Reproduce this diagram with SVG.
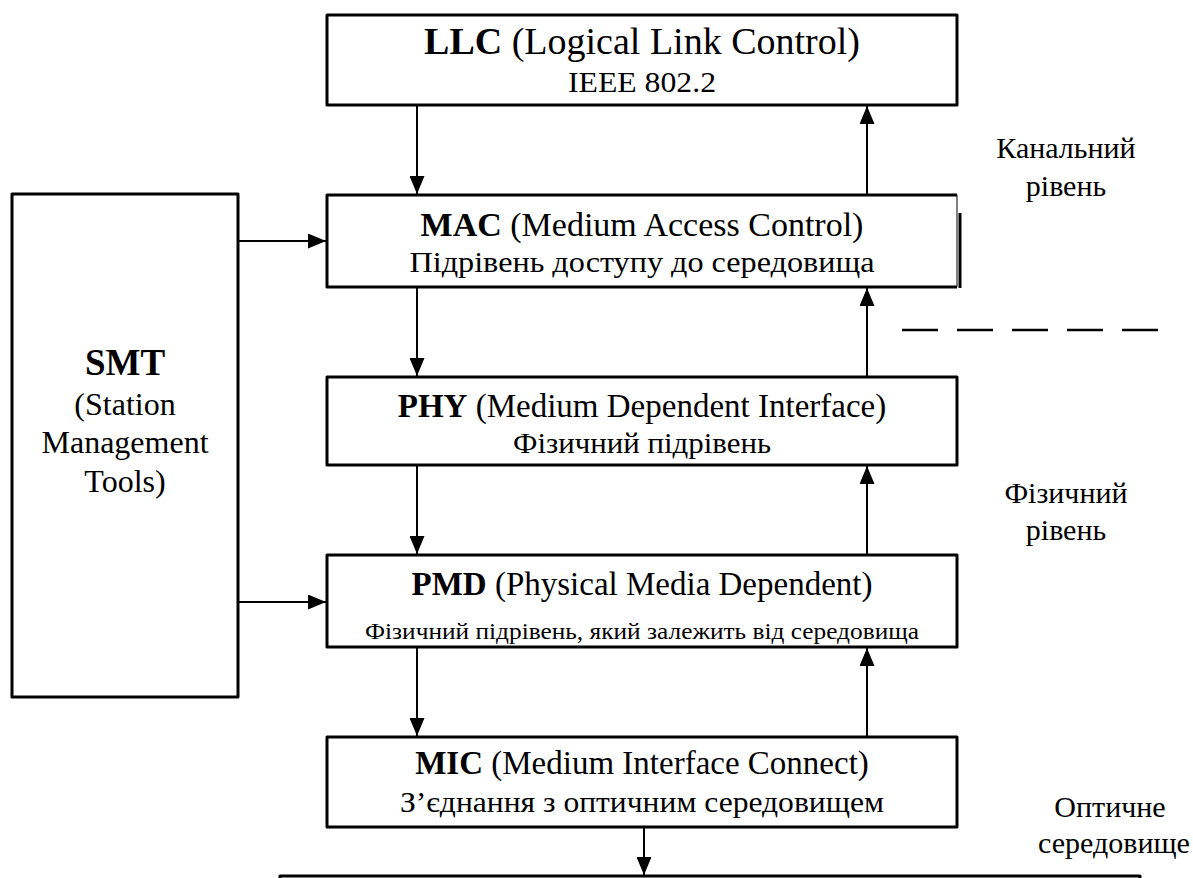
<svg xmlns="http://www.w3.org/2000/svg" width="1193" height="878" viewBox="0 0 1193 878" font-family="'Liberation Serif', 'Times New Roman', serif">
<style type="text/css">
.box{fill:#fff;stroke:#000;stroke-width:3;stroke-linejoin:round}
.conn{stroke:#000;stroke-width:2;fill:none}
text{font-family:'Liberation Serif','Times New Roman',serif;fill:#000;text-anchor:middle}
.b{font-weight:bold}
.t{font-size:33px}
.s{font-size:29px}
.side{font-size:30px}
</style>
<defs>
<marker id="ah" markerUnits="userSpaceOnUse" markerWidth="18" markerHeight="15" refX="18" refY="7.5" orient="auto">
<path d="M0,0 L18,7.5 L0,15 z" fill="#000"/>
</marker>
</defs>
<rect width="1193" height="878" fill="#fff"/>

<g id="llc">
<rect class="box" x="327" y="15" width="630" height="90"/>
<text x="642" y="54" style="font-size:38px"><tspan class="b">LLC</tspan> (Logical Link Control)</text>
<text x="642" y="92" class="s" textLength="148" lengthAdjust="spacingAndGlyphs">IEEE 802.2</text>
</g>

<g id="mac">
<path d="M957,287 L327,287 L327,195 L957,195" class="box"/>
<line x1="957" y1="195" x2="957" y2="287" stroke="#000" stroke-width="1"/>
<line x1="960" y1="213" x2="960" y2="288" stroke="#000" stroke-width="3"/>
<text x="642" y="236" style="font-size:34px"><tspan class="b">MAC</tspan> (Medium Access Control)</text>
<text x="642" y="272" class="s" textLength="465" lengthAdjust="spacingAndGlyphs">Підрівень доступу до середовища</text>
</g>

<g id="phy">
<rect class="box" x="327" y="377" width="630" height="88"/>
<text x="642" y="417" class="t"><tspan class="b">PHY</tspan> (Medium Dependent Interface)</text>
<text x="642" y="453" class="s" textLength="258" lengthAdjust="spacingAndGlyphs">Фізичний підрівень</text>
</g>

<g id="pmd">
<rect class="box" x="327" y="555" width="630" height="92"/>
<text x="642" y="595" class="t"><tspan class="b">PMD</tspan> (Physical Media Dependent)</text>
<text x="642" y="639" style="font-size:23px" textLength="554" lengthAdjust="spacingAndGlyphs">Фізичний підрівень, який залежить від середовища</text>
</g>

<g id="mic">
<rect class="box" x="327" y="737" width="630" height="90"/>
<text x="642" y="774" class="t"><tspan class="b">MIC</tspan> (Medium Interface Connect)</text>
<text x="642" y="812" class="s" textLength="484" lengthAdjust="spacingAndGlyphs">З’єднання з оптичним середовищем</text>
</g>

<g id="smt">
<rect class="box" x="12" y="194" width="226" height="503"/>
<text x="125" y="375" class="b" style="font-size:37px">SMT</text>
<text x="125" y="415" style="font-size:32px">(Station</text>
<text x="125" y="453" style="font-size:32px">Management</text>
<text x="125" y="492" style="font-size:32px">Tools)</text>
</g>

<g id="medium">
<rect class="box" x="280" y="876" width="860" height="20"/>
</g>

<g id="labels">
<text x="1066" y="158" class="side">Канальний</text>
<text x="1066" y="196" class="side">рівень</text>
<line x1="902" y1="330" x2="1158" y2="330" stroke="#000" stroke-width="2.5" stroke-dasharray="36 19"/>
<text x="1066" y="503" class="side">Фізичний</text>
<text x="1066" y="540" class="side">рівень</text>
<text x="1110" y="817" class="side">Оптичне</text>
<text x="1114" y="853" class="side">середовище</text>
</g>

<g id="connectors">
<line class="conn" x1="417" y1="105" x2="417" y2="194" marker-end="url(#ah)"/>
<line class="conn" x1="867" y1="195" x2="867" y2="106" marker-end="url(#ah)"/>
<line class="conn" x1="417" y1="287" x2="417" y2="376" marker-end="url(#ah)"/>
<line class="conn" x1="867" y1="377" x2="867" y2="288" marker-end="url(#ah)"/>
<line class="conn" x1="417" y1="465" x2="417" y2="554" marker-end="url(#ah)"/>
<line class="conn" x1="867" y1="555" x2="867" y2="466" marker-end="url(#ah)"/>
<line class="conn" x1="417" y1="647" x2="417" y2="736" marker-end="url(#ah)"/>
<line class="conn" x1="867" y1="737" x2="867" y2="648" marker-end="url(#ah)"/>
<line class="conn" x1="644" y1="827" x2="644" y2="875" marker-end="url(#ah)"/>
<line class="conn" x1="238" y1="241" x2="326" y2="241" marker-end="url(#ah)"/>
<line class="conn" x1="238" y1="602" x2="326" y2="602" marker-end="url(#ah)"/>
</g>
</svg>
